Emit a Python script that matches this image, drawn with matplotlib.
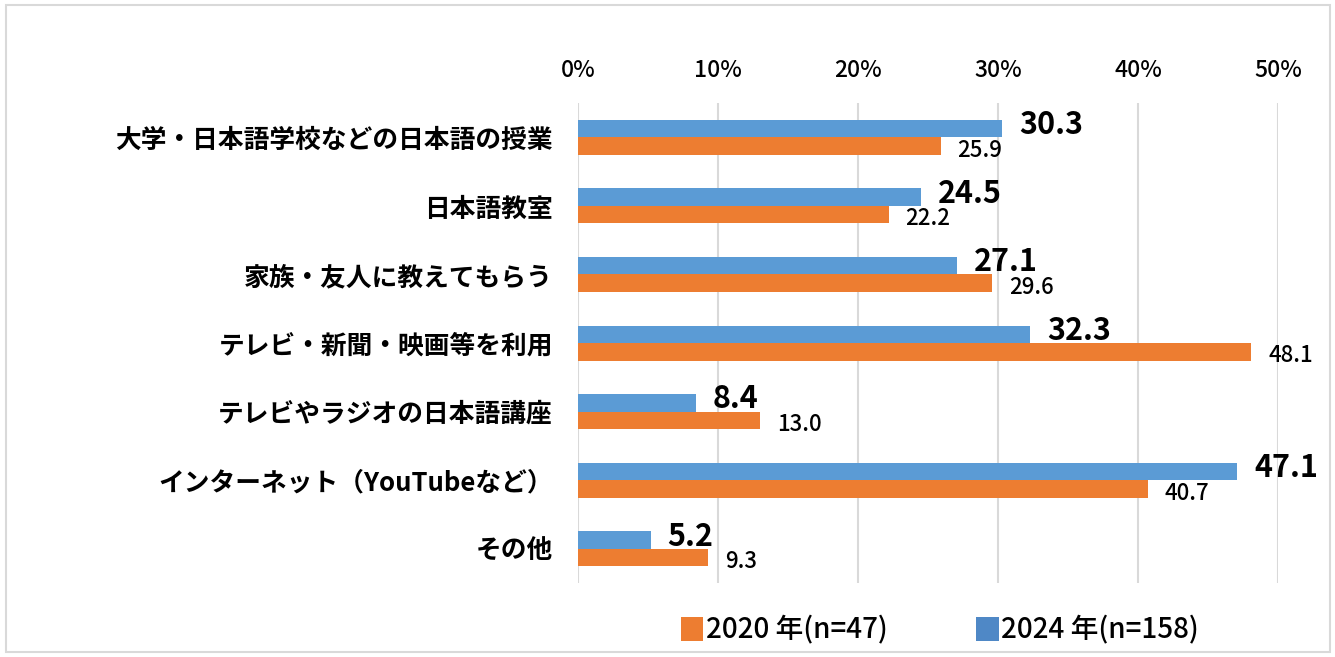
import matplotlib.pyplot as plt
from matplotlib.patches import Patch, Rectangle
import numpy as np

plt.rcParams['font.family'] = ['Noto Sans CJK JP', 'DejaVu Sans']

# data
categories = [
    '大学・日本語学校などの日本語の授業',
    '日本語教室',
    '家族・友人に教えてもらう',
    'テレビ・新聞・映画等を利用',
    'テレビやラジオの日本語講座',
    'インターネット（YouTubeなど）',
    'その他',
]
values_2024 = [30.3, 24.5, 27.1, 32.3, 8.4, 47.1, 5.2]
values_2020 = [25.9, 22.2, 29.6, 48.1, 13.0, 40.7, 9.3]
label_2020 = '2020 年(n=47)'
label_2024 = '2024 年(n=158)'
x_ticks = [0, 10, 20, 30, 40, 50]

blue = '#5B9BD5'
orange = '#ED7D31'

fig = plt.figure(figsize=(13.35, 6.57), dpi=100)
ax = fig.add_axes([0.433, 0.1126, 0.5243, 0.7306])

y = np.arange(len(categories))
h = 0.255
ax.barh(y - h / 2, values_2024, height=h, color=blue, zorder=3)
ax.barh(y + h / 2, values_2020, height=h, color=orange, zorder=3)

# value labels: 2024 large and bold, 2020 smaller
for yi, v in zip(y, values_2024):
    ax.annotate(f'{v:.1f}', xy=(v, yi - h / 2), xytext=(12, 2.5),
                textcoords='offset points', va='center', ha='left',
                fontsize=22, fontweight='bold', color='black', zorder=5)
for yi, v in zip(y, values_2020):
    ax.annotate(f'{v:.1f}', xy=(v, yi + h / 2), xytext=(12, -3),
                textcoords='offset points', va='center', ha='left',
                fontsize=16, fontweight='medium', color='black', zorder=5)

ax.set_xlim(0, 50)
ax.set_ylim(len(categories) - 0.5, -0.5)
ax.set_xticks(x_ticks)
ax.set_xticklabels([f'{t}%' for t in x_ticks], fontsize=16.5, fontweight='medium')
ax.xaxis.tick_top()
ax.tick_params(axis='x', length=0, pad=15)
ax.set_yticks(y)
ax.set_yticklabels(categories, fontsize=18.5, fontweight='bold')
ax.tick_params(axis='y', length=0, pad=18)
ax.grid(axis='x', color='#d9d9d9', linewidth=1.5, zorder=0)
for s in ax.spines.values():
    s.set_visible(False)

# legend
handles = [Patch(facecolor=orange, edgecolor='none', label=label_2020),
           Patch(facecolor='#4F88C6', edgecolor='none', label=label_2024)]
fig.legend(handles=handles, loc='center', bbox_to_anchor=(0.704, 0.041), ncol=2,
           frameon=False, handlelength=0.8, handleheight=0.9,
           handletextpad=0.1, columnspacing=3.2, prop={'size': 20, 'weight': 'medium'})

# light outer border
fig.patches.append(Rectangle((6 / 1335, 5 / 657), 1324 / 1335, 647 / 657,
                             transform=fig.transFigure, fill=False,
                             edgecolor='#d9d9d9', linewidth=1.5))

fig.savefig('out.png', dpi=100)
